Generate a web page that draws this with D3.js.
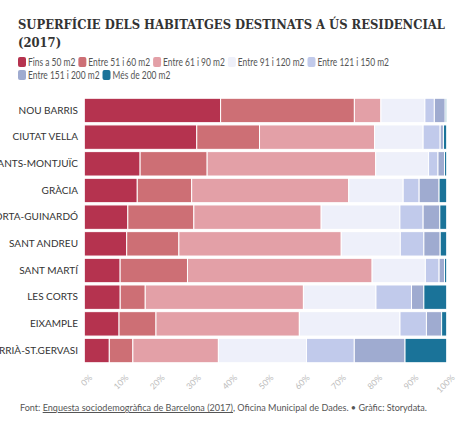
<!DOCTYPE html>
<html><head><meta charset="utf-8">
<script src="https://cdn.jsdelivr.net/npm/d3@7"></script>
<style>
body{margin:0;background:#fff;}
svg{display:block;}
</style></head>
<body><svg id="c" width="474" height="424"></svg>
<script>
const districts = ["NOU BARRIS","CIUTAT VELLA","SANTS-MONTJUÏC","GRÀCIA","HORTA-GUINARDÓ","SANT ANDREU","SANT MARTÍ","LES CORTS","EIXAMPLE","SARRIÀ-ST.GERVASI"];
const seriesNames = ["Fins a 50 m2","Entre 51 i 60 m2","Entre 61 i 90 m2","Entre 91 i 120 m2","Entre 121 i 150 m2","Entre 151 i 200 m2","Més de 200 m2"];
const colors = ["#b5334f","#cd6f75","#e3a0a7","#eef0fa","#c1caeb","#9fabd0","#1a7399"];
const fins50   = [37.5, 31.0, 15.4, 14.6, 12.0, 11.7,  9.9,  9.9,  9.6,  6.9];
const e51_60   = [36.8, 17.3, 18.5, 15.0, 18.2, 14.4, 18.6,  6.9, 10.2,  6.5];
const e61_90   = [ 7.3, 31.7, 46.5, 43.3, 35.1, 44.8, 51.0, 43.6, 39.6, 23.6];
const e91_120  = [12.1, 13.4, 14.6, 15.0, 21.7, 16.3, 14.7, 20.0, 27.8, 24.3];
const e121_150 = [ 2.6,  4.7,  2.6,  4.4,  6.4,  6.5,  3.8,  9.8,  7.3, 13.2];
const e151_200 = [ 3.0,  0.9,  1.8,  5.5,  4.6,  4.5,  1.5,  3.4,  4.2, 14.0];
const mes200   = [ 0.4,  0.9,  0.6,  2.1,  1.9,  1.8,  0.6,  6.3,  1.4, 11.5];
const xTicks = [0,10,20,30,40,50,60,70,80,90,100];
const tickLabels = ["0%","10%","20%","30%","40%","50%","60%","70%","80%","90%","100%"];

const seriesArr = [fins50,e51_60,e61_90,e91_120,e121_150,e151_200,mes200];
const rows = districts.map((d,i)=>{ const o={district:d}; seriesNames.forEach((s,j)=>o[s]=seriesArr[j][i]); return o;});
const stack = d3.stack().keys(seriesNames).offset(d3.stackOffsetExpand)(rows);

const svg = d3.select("#c");
const x = d3.scaleLinear().domain([0,1]).range([84.3,446.7]);
const y = d3.scaleBand().domain(districts).range([97.2,363.8]).paddingInner(0.085).paddingOuter(0.04);
const sans = "Lato, 'Open Sans', sans-serif";
const narrow = "'Liberation Sans Narrow', 'Arial Narrow', Lato, sans-serif";

function fitWidth(sel, target){
  const w = sel.node().getComputedTextLength();
  const fs = parseFloat(sel.style("font-size"));
  sel.style("font-size", (fs*target/w)+"px");
}

// title
const serif = "'DejaVu Serif Condensed', 'DejaVu Serif', serif";
const t1 = svg.append("text").attr("x",18).attr("y",29)
  .style("font-family",serif).style("font-stretch","condensed").style("font-weight","bold")
  .style("font-size","15px").attr("fill","#333").text("SUPERFÍCIE DELS HABITATGES DESTINATS A ÚS RESIDENCIAL");
fitWidth(t1, 427);
svg.append("text").attr("x",18).attr("y",47)
  .style("font-family",serif).style("font-stretch","condensed").style("font-weight","bold")
  .style("font-size",t1.style("font-size")).attr("fill","#333").text("(2017)");

// legend
const lg = svg.append("g").style("font-family",narrow).style("font-size","10.5px");
const natural = seriesNames.map(s=>{
  const t=lg.append("text").text(s); const w=t.node().getComputedTextLength(); t.remove(); return w;});
const row1Natural = d3.sum(natural.slice(0,5));
const ratio = (392-18-5*13)/row1Natural;
let lx=18, ly=62;
seriesNames.forEach((s,i)=>{
  if(i===5){lx=18; ly=75;}
  const g=lg.append("g").attr("transform",`translate(${lx},${ly})`);
  g.append("rect").attr("x",0).attr("y",-5).attr("width",8).attr("height",10).attr("rx",2).attr("fill",colors[i]);
  const w = natural[i]*ratio;
  g.append("text").attr("x",10).attr("y",3.8).attr("fill","#555")
    .attr("textLength",w).attr("lengthAdjust","spacingAndGlyphs").text(s);
  lx += 10 + w + 3;
});

// bars
const gBars = svg.append("g");
stack.forEach((layer,j)=>{
  gBars.append("g").attr("fill",colors[j]).selectAll("rect").data(layer).join("rect")
    .attr("x",d=>x(d[0])).attr("width",d=>Math.max(0,x(d[1])-x(d[0])))
    .attr("y",d=>y(d.data.district)).attr("height",y.bandwidth())
    .attr("stroke","#fff").attr("stroke-width",1);
});

// y axis labels
const yAxis = d3.axisLeft(y).tickSize(0).tickPadding(6);
const ya = svg.append("g").attr("transform","translate(84,0)").call(yAxis);
ya.select(".domain").remove();
ya.selectAll("text").style("font-family",sans).style("font-size","10px").attr("fill","#333");

// x axis
const xAxis = d3.axisBottom(x).tickValues(xTicks.map(v=>v/100)).tickFormat((d,i)=>tickLabels[i]).tickSize(0);
const xa = svg.append("g").attr("transform","translate(0,366)").call(xAxis);
xa.select(".domain").remove();
xa.selectAll("text").style("font-family",sans).style("font-size","8.5px").attr("fill","#bbb")
  .attr("text-anchor","end").attr("dy","0").attr("dx","0")
  .attr("transform","translate(6,10) rotate(-45)");

// footer
const f = svg.append("text").attr("x",20).attr("y",411).style("font-family",sans).style("font-size","10px").attr("fill","#555");
f.append("tspan").text("Font: ");
f.append("tspan").attr("text-decoration","underline").text("Enquesta sociodemogràfica de Barcelona (2017)");
f.append("tspan").text(", Oficina Municipal de Dades. • Gràfic: Storydata.");
const fw = f.node().getComputedTextLength();
if (fw > 407) f.attr("textLength",407).attr("lengthAdjust","spacingAndGlyphs");
</script></body></html>
